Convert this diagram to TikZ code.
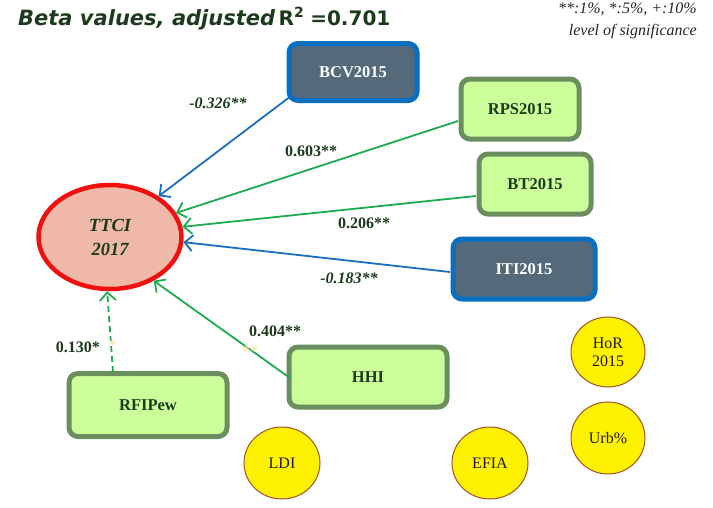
\documentclass[tikz,border=0pt]{standalone}
\usepackage{fontspec}
\setmainfont{Liberation Serif}
\newfontfamily\titlefont{DejaVu Sans}
\usetikzlibrary{arrows.meta,shapes.geometric}
\definecolor{dkgreen}{HTML}{1C3A1C}
\definecolor{boxblue}{HTML}{0B6FC0}
\definecolor{slate}{HTML}{546A7A}
\definecolor{boxgreenb}{HTML}{6A8E5E}
\definecolor{boxgreenf}{HTML}{CCFF99}
\definecolor{ellred}{HTML}{F01010}
\definecolor{ellfill}{HTML}{F0B8A8}
\definecolor{arrblue}{HTML}{1A6FBF}
\definecolor{arrgreen}{HTML}{1EAA50}
\definecolor{brownb}{HTML}{A0522D}
\definecolor{ghost}{HTML}{F8E8B0}
\tikzset{
  bluebox/.style={draw=boxblue, line width=5pt, fill=slate, rounded corners=9pt,
    text=white, font=\bfseries\fontsize{16.5}{18}\selectfont, align=center},
  greenbox/.style={draw=boxgreenb, line width=5pt, fill=boxgreenf, rounded corners=9pt,
    text=dkgreen, font=\bfseries\fontsize{16.5}{18}\selectfont, align=center},
  yellowell/.style={ellipse, draw=brownb, line width=1pt, fill=yellow, inner sep=0pt,
    text=black!80!brown, font=\fontsize{16}{18}\selectfont, align=center},
  barrow/.style={draw=arrblue, line width=1.8pt, -{Straight Barb[length=8pt,width=16pt,line width=1.8pt]}},
  garrow/.style={draw=arrgreen, line width=1.8pt, -{Straight Barb[length=8pt,width=16pt,line width=1.8pt]}},
  coef/.style={text=dkgreen, font=\bfseries\fontsize{16}{18}\selectfont},
  icoef/.style={text=dkgreen, font=\bfseries\itshape\fontsize{16}{18}\selectfont},
}
\begin{document}
\begin{tikzpicture}[x=1pt,y=-1pt]
\useasboundingbox (0,0) rectangle (713,507);
% title
\node[anchor=base west, inner sep=0pt, text=dkgreen] (title) at (18,25)
  {\titlefont\fontsize{21}{24}\selectfont\bfseries\itshape Beta values, adjusted\,\upshape\fontsize{20}{24}\selectfont R\textsuperscript{2}\hspace{6pt}=0.701};
\node[anchor=north east, align=right, inner sep=0pt, font=\itshape\fontsize{16}{22}\selectfont, text=black!85] (legend) at (697,3)
  {**:1\%, *:5\%, +:10\%\\level of significance};
% central ellipse
\node[ellipse, draw=ellred, line width=4.5pt, fill=ellfill, minimum width=143pt, minimum height=104pt,
  text=dkgreen, font=\bfseries\itshape\fontsize{18.5}{24}\selectfont, align=center] (ttci) at (110,237) {TTCI\\2017};
% boxes
\node[bluebox, minimum width=128pt, minimum height=57pt] (bcv) at (353,72) {BCV2015};
\node[greenbox, minimum width=118pt, minimum height=60pt] (rps) at (520,109) {RPS2015};
\node[greenbox, minimum width=112pt, minimum height=60pt] (bt) at (535,184) {BT2015};
\node[bluebox, minimum width=142pt, minimum height=60pt] (iti) at (524,269) {ITI2015};
\node[greenbox, minimum width=158pt, minimum height=60pt] (hhi) at (368,377) {HHI};
\node[greenbox, minimum width=158pt, minimum height=63pt] (rfi) at (148,405) {RFIPew};
% yellow ellipses
\node[yellowell, minimum width=76pt, minimum height=72pt] (ldi) at (282,463) {LDI};
\node[yellowell, minimum width=76pt, minimum height=72pt] (efia) at (490,463) {EFIA};
\node[yellowell, minimum width=74pt, minimum height=70pt] (hor) at (608,352) {HoR\\2015};
\node[yellowell, minimum width=74pt, minimum height=72pt] (urb) at (608,438) {Urb\%};
% arrows
\coordinate (bcvs) at (291,96);
\coordinate (rpss) at (458,121);
\coordinate (bts) at (476,196);
\coordinate (itis) at (450,272);
\coordinate (hhis) at (290,378);
\coordinate (rfis) at (113,372);
\draw[barrow] (bcvs) -- (ttci.40);
\draw[garrow] (rpss) -- (ttci.20);
\draw[garrow] (bts) -- (ttci.8);
\draw[barrow] (itis) -- (ttci.-4);
\draw[garrow] (hhis) -- (ttci.-45);
\draw[garrow, dash pattern=on 6pt off 4pt] (rfis) -- (ttci.-93);
% coefficients
\node[icoef] (c1) at (218,103) {-0.326**};
\node[coef] (c2) at (311,151) {0.603**};
\node[coef] (c3) at (364,223) {0.206**};
\node[icoef] (c4) at (349,278) {-0.183**};
\node[coef] (c5) at (275,331) {0.404**};
\node[coef] (c6) at (78,347) {0.130*};
\node[coef, text=ghost] (g1) at (113,345) {*};
\node[coef, text=ghost] (g2) at (250,351) {**};
\end{tikzpicture}
\end{document}
